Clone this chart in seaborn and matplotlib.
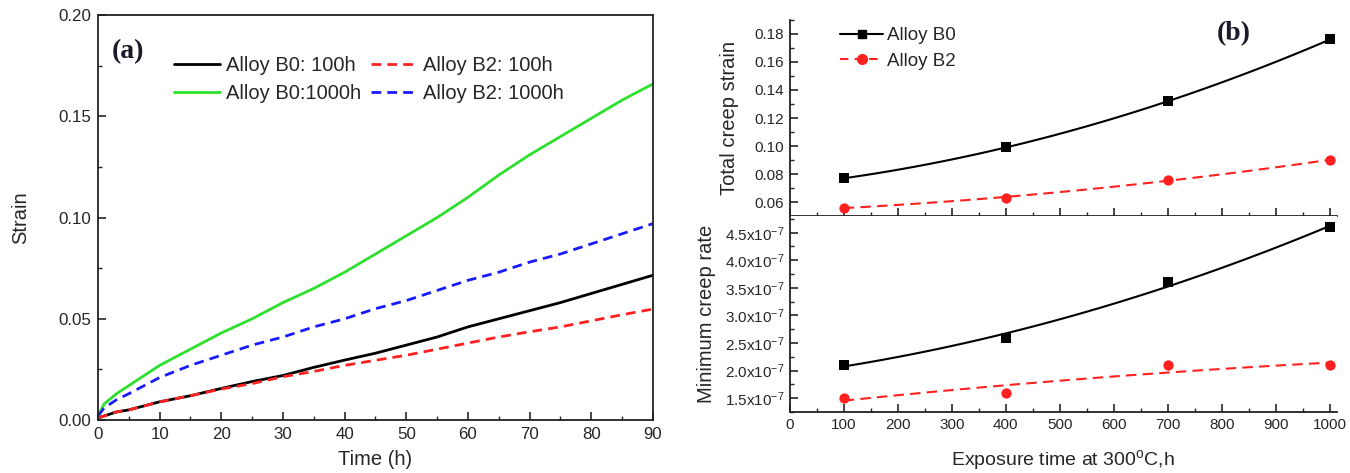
import numpy as np
import pandas as pd
import matplotlib
matplotlib.use("Agg")
import matplotlib.pyplot as plt
from matplotlib.ticker import MultipleLocator, AutoMinorLocator, FuncFormatter
from matplotlib.lines import Line2D
import seaborn as sns

# ---------------- data ----------------
time_h = [0, 1, 3, 5, 10, 15, 20, 25, 30, 35, 40, 45, 50, 55, 60, 65, 70, 75, 80, 85, 90]
b0_100h = [0.001, 0.002, 0.004, 0.005, 0.009, 0.012, 0.0156, 0.019, 0.022, 0.026, 0.0296,
           0.033, 0.037, 0.041, 0.046, 0.050, 0.054, 0.058, 0.0625, 0.067, 0.0715]
b2_100h = [0.001, 0.002, 0.004, 0.005, 0.009, 0.012, 0.0153, 0.018, 0.0214, 0.024, 0.027,
           0.0295, 0.032, 0.035, 0.038, 0.041, 0.0436, 0.046, 0.049, 0.052, 0.0548]
b0_1000h = [0.002, 0.008, 0.013, 0.017, 0.027, 0.035, 0.043, 0.050, 0.058, 0.065, 0.073,
            0.082, 0.091, 0.100, 0.110, 0.121, 0.131, 0.140, 0.149, 0.158, 0.166]
b2_1000h = [0.002, 0.006, 0.010, 0.013, 0.021, 0.027, 0.032, 0.037, 0.041, 0.046, 0.050,
            0.055, 0.059, 0.064, 0.069, 0.073, 0.078, 0.082, 0.087, 0.092, 0.097]

exposure = [100, 400, 700, 1000]
total_b0 = [0.077, 0.099, 0.132, 0.176]
total_b2 = [0.056, 0.063, 0.076, 0.090]
rate_b0 = [2.1e-7, 2.6e-7, 3.6e-7, 4.6e-7]
rate_b2 = [1.5e-7, 1.6e-7, 2.1e-7, 2.1e-7]

# ---------------- style ----------------
sns.set_theme(style="white")
plt.rcParams['font.family'] = ['Liberation Sans', 'DejaVu Sans']
plt.rcParams['mathtext.fontset'] = 'custom'
plt.rcParams['mathtext.rm'] = 'Liberation Sans'
plt.rcParams['mathtext.it'] = 'Liberation Sans:italic'
plt.rcParams['axes.edgecolor'] = '#222222'
plt.rcParams['axes.linewidth'] = 1.3

GREEN = '#2ee02e'
RED = '#ff2020'
BLUE = '#1a1aff'
LABEL_FS = 14.5

fig = plt.figure(figsize=(13.5, 4.73), dpi=100)

# ---------------- panel (a) ----------------
axa = fig.add_axes([0.0726, 0.112, 0.411, 0.856])
sns.lineplot(x=time_h, y=b0_100h, ax=axa, color='black', lw=2.0, label='Alloy B0: 100h')
sns.lineplot(x=time_h, y=b0_1000h, ax=axa, color=GREEN, lw=2.0, label='Alloy B0:1000h')
sns.lineplot(x=time_h, y=b2_100h, ax=axa, color=RED, lw=2.0, label='Alloy B2: 100h')
sns.lineplot(x=time_h, y=b2_1000h, ax=axa, color=BLUE, lw=2.0, label='Alloy B2: 1000h')
for ln in axa.lines[2:]:
    ln.set_dashes([3.5, 2.2])
axa.set_xlim(0, 90)
axa.set_ylim(0, 0.20)
axa.xaxis.set_major_locator(MultipleLocator(10))
axa.xaxis.set_minor_locator(MultipleLocator(5))
axa.yaxis.set_major_locator(MultipleLocator(0.05))
axa.yaxis.set_minor_locator(MultipleLocator(0.025))
axa.yaxis.set_major_formatter(FuncFormatter(lambda v, p: f"{v:.2f}"))
axa.tick_params(which='major', direction='in', length=6, width=1.2, labelsize=12.2,
                bottom=True, left=True, top=False, right=False, pad=5)
axa.tick_params(which='minor', direction='in', length=3, width=1.0,
                bottom=True, left=True, top=False, right=False)
axa.set_xlabel('Time (h)', fontsize=LABEL_FS, labelpad=6)
axa.set_ylabel('Strain', fontsize=LABEL_FS, labelpad=20)
leg = axa.legend(ncol=2, loc='upper left', bbox_to_anchor=(0.137, 0.898), frameon=False,
                 fontsize=14.5, handlelength=2.3, handletextpad=0.3, columnspacing=0.45,
                 labelspacing=0.41, borderaxespad=0, borderpad=0)
for lh in leg.get_lines()[2:]:
    lh.set_dashes([3.5, 2.2])
axa.text(0.054, 0.91, '(a)', transform=axa.transAxes, fontsize=20, fontweight='bold',
         family='Liberation Serif', color='#1a1a2a', ha='center', va='center')

# ---------------- panel (b) ----------------
axt = fig.add_axes([0.585, 0.543, 0.405, 0.415])
axb = fig.add_axes([0.585, 0.129, 0.405, 0.414], sharex=axt)

def draw(ax, yb0, yb2):
    sns.regplot(x=exposure, y=yb0, ax=ax, order=2, ci=None, marker='s', color='black',
                scatter_kws=dict(s=45, alpha=1, zorder=3, linewidths=0),
                line_kws=dict(lw=1.5))
    sns.regplot(x=exposure, y=yb2, ax=ax, order=2, ci=None, marker='o', color=RED,
                scatter_kws=dict(s=55, alpha=1, zorder=3, linewidths=0),
                line_kws=dict(lw=1.5, dashes=[5, 3]))

draw(axt, total_b0, total_b2)
draw(axb, rate_b0, rate_b2)

for ax in (axt, axb):
    ax.set_xlim(0, 1012)
    ax.xaxis.set_major_locator(MultipleLocator(100))
    ax.xaxis.set_minor_locator(MultipleLocator(50))
    ax.yaxis.set_minor_locator(AutoMinorLocator(2))
    ax.spines['top'].set_visible(False)
    ax.spines['right'].set_visible(False)
    ax.tick_params(which='major', direction='in', length=6, width=1.2, labelsize=11,
                   bottom=True, left=True, pad=4)
    ax.tick_params(which='minor', direction='in', length=3, width=1.0, bottom=True, left=True)
    ax.set_xlabel('')
    ax.set_ylabel('')

axt.set_ylim(0.05, 0.19)
axt.yaxis.set_major_locator(MultipleLocator(0.02))
axt.yaxis.set_major_formatter(FuncFormatter(lambda v, p: f"{v:.2f}"))
axt.tick_params(labelbottom=False)
axt.set_ylabel('Total creep strain', fontsize=LABEL_FS, labelpad=11)

axb.set_ylim(1.25e-7, 4.8e-7)
axb.yaxis.set_major_locator(MultipleLocator(0.5e-7))
axb.yaxis.set_major_formatter(FuncFormatter(lambda v, p: f"{v/1e-7:.1f}x10$^{{-7}}$"))
axb.set_ylabel('Minimum creep rate', fontsize=LABEL_FS, labelpad=6)
axb.set_xlabel('Exposure time at 300$^{\\rm o}$C,h', fontsize=14, labelpad=12)

leg_handles = [Line2D([], [], color='black', marker='s', ms=6, lw=1.5),
               Line2D([], [], color=RED, marker='o', ms=7, lw=1.5, dashes=[4, 3])]
axt.legend(leg_handles, ['Alloy B0', 'Alloy B2'], loc='upper left',
           bbox_to_anchor=(0.092, 0.962), frameon=False, fontsize=13.5, handlelength=2.3,
           handletextpad=0.2, labelspacing=0.45, borderaxespad=0, borderpad=0)
axt.text(0.812, 0.93, '(b)', transform=axt.transAxes, fontsize=20, fontweight='bold',
         family='Liberation Serif', color='#1a1a2a', ha='center', va='center')

fig.savefig('out.png', dpi=100)
